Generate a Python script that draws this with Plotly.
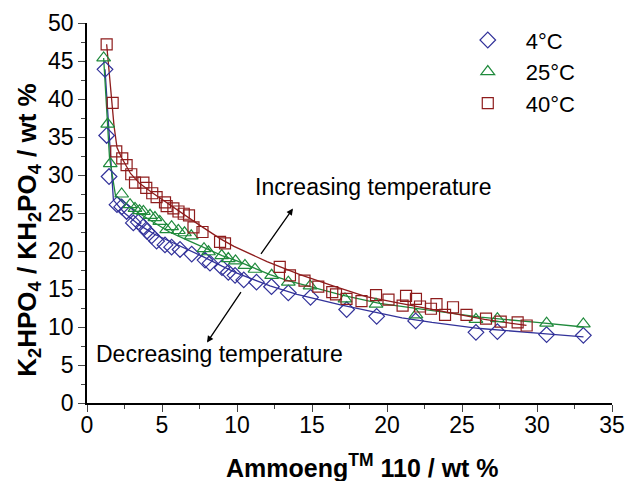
import plotly.graph_objects as go

# ---- data ----
x4 = [1.2, 1.31, 1.47, 2.0, 2.31, 2.64, 3.09, 3.42, 3.76, 4.0, 4.31, 4.64, 5.2, 5.64, 6.2, 6.98,
      7.87, 8.2, 9.0, 9.42, 9.87, 10.45, 11.3, 12.3, 13.42, 14.9, 17.31, 19.31, 21.91, 25.93,
      27.36, 30.64, 33.09]
y4 = [43.9, 35.2, 29.8, 26.1, 25.8, 25.2, 23.7, 23.8, 23.2, 22.6, 22.0, 21.3, 20.8, 20.5, 20.2, 19.6,
      18.8, 18.4, 17.8, 17.2, 16.8, 16.2, 15.9, 15.3, 14.5, 13.9, 12.3, 11.4, 10.8, 9.3,
      9.4, 9.0, 8.9]

x25 = [1.11, 1.38, 1.55, 2.31, 2.87, 3.2, 3.5, 3.76, 4.2, 4.53, 4.85, 5.31, 5.64, 6.09, 6.5, 6.95,
       7.8, 8.1, 8.98, 9.42, 9.9, 10.53, 11.2, 12.31, 13.42, 14.87, 17.2, 19.27, 21.93, 25.93,
       27.36, 30.64, 33.09]
y25 = [45.4, 36.7, 31.5, 27.5, 26.1, 25.6, 25.3, 25.2, 24.7, 24.4, 23.9, 22.8, 23.2, 22.7, 22.4, 22.0,
       20.3, 19.9, 19.4, 19.0, 18.7, 18.1, 17.6, 16.8, 15.9, 15.4, 13.7, 13.0, 11.6, 11.0,
       11.1, 10.5, 10.4]

x40 = [1.31, 1.71, 1.95, 2.35, 2.64, 2.95, 3.2, 3.76, 3.95, 4.35, 4.64, 5.2, 5.31, 5.76, 6.1, 6.45,
       6.8, 7.1, 7.7, 8.87, 9.2, 12.85, 13.53, 14.5, 15.42, 16.35, 16.6, 17.3, 18.3, 19.27,
       20.1, 21.04, 21.27, 21.93, 22.2, 22.93, 23.3, 23.87, 24.4, 25.3, 26.6, 27.58, 28.71, 29.31]
y40 = [47.2, 39.5, 33.1, 32.2, 31.3, 30.1, 29.0, 29.0, 28.3, 27.6, 27.1, 26.4, 25.9, 25.6, 25.2, 24.9,
       24.7, 23.1, 22.5, 21.2, 21.0, 17.9, 16.8, 16.1, 15.3, 14.6, 14.3, 13.7, 13.4, 14.2,
       13.6, 12.8, 14.1, 13.7, 12.7, 12.4, 13.0, 11.6, 12.6, 11.6, 11.1, 10.7, 10.6, 10.2]

# fitted curves
fx4 = [1.2, 1.76, 2.5, 3.5, 4.5, 5.5, 6.5, 7.8, 9.0, 10.0, 12.2, 14.0, 16.9, 19.5, 21.0, 23.0,
       26.2, 30.0, 33.1]
fy4 = [43.9, 26.7, 25.0, 23.4, 22.2, 21.3, 20.4, 19.2, 18.0, 17.1, 15.4, 14.3, 12.9, 11.8, 11.2, 10.6,
       9.8, 9.2, 8.7]

fx25 = [1.11, 1.5, 1.9, 2.5, 3.3, 4.0, 5.0, 5.5, 6.5, 7.7, 9.0, 10.0, 11.0, 12.2, 13.4, 14.9, 17.0,
        19.5, 21.0, 23.0, 26.2, 30.0, 33.1]
fy25 = [45.4, 32.3, 27.3, 26.4, 25.2, 24.3, 23.1, 22.5, 21.6, 20.5, 19.4, 18.7, 17.9, 16.9, 16.1, 15.3,
        14.2, 13.1, 12.7, 12.1, 11.3, 10.6, 10.0]

fx40 = [1.31, 1.5, 1.65, 1.8, 2.0, 2.3, 2.9, 3.5, 4.4, 5.5, 6.6, 7.5, 8.9, 9.8, 12.0, 14.2, 16.4,
        18.6, 20.9, 24.0, 26.5, 29.3]
fy40 = [47.2, 42.6, 39.6, 36.5, 33.6, 32.3, 30.2, 28.9, 27.6, 26.1, 24.7, 23.4, 21.6, 20.6, 18.6, 16.9,
        15.4, 14.0, 13.1, 11.9, 11.0, 10.2]

series = [
    ("4°C", x4, y4, fx4, fy4, "#32329A", "diamond-open", 12),
    ("25°C", x25, y25, fx25, fy25, "#1F8A3C", "triangle-up-open", 12),
    ("40°C", x40, y40, fx40, fy40, "#8E1C1C", "square-open", 11),
]

FONT = "Liberation Sans, Arial, sans-serif"

fig = go.Figure()
for name, xs, ys, fxs, fys, col, sym, sz in series:
    fig.add_trace(go.Scatter(x=fxs, y=fys, mode="lines", line=dict(color=col, width=1.3),
                             showlegend=False, hoverinfo="skip"))
for name, xs, ys, fxs, fys, col, sym, sz in series:
    fig.add_trace(go.Scatter(x=xs, y=ys, mode="markers", name=name,
                             marker=dict(symbol=sym, size=sz, color=col,
                                         line=dict(color=col, width=1.2))))

# arrows and labels
fig.add_annotation(x=13.73, y=25.6, ax=11.53, ay=19.43, xref="x", yref="y", axref="x", ayref="y",
                   showarrow=True, arrowhead=2, arrowsize=1, arrowwidth=1.3, arrowcolor="black", text="")
fig.add_annotation(x=8.0, y=7.95, ax=10.33, ay=14.8, xref="x", yref="y", axref="x", ayref="y",
                   showarrow=True, arrowhead=2, arrowsize=1, arrowwidth=1.3, arrowcolor="black", text="")
fig.add_annotation(x=19.13, y=28.4, xref="x", yref="y", text="Increasing temperature", showarrow=False,
                   font=dict(family=FONT, size=23, color="black"))
fig.add_annotation(x=8.8, y=6.5, xref="x", yref="y", text="Decreasing temperature", showarrow=False,
                   font=dict(family=FONT, size=23, color="black"))

# axis titles
fig.add_annotation(x=0.524, y=-0.167, xref="paper", yref="paper", showarrow=False,
                   xanchor="center", yanchor="middle",
                   text="<b>Ammoeng<sup>TM</sup> 110 / wt %</b>",
                   font=dict(family=FONT, size=25, color="black"))
fig.add_annotation(x=-0.112, y=0.454, xref="paper", yref="paper", showarrow=False, textangle=-90,
                   xanchor="center", yanchor="middle",
                   text="<b>K<sub>2</sub>HPO<sub>4</sub> / KH<sub>2</sub>PO<sub>4</sub> / wt %</b>",
                   font=dict(family=FONT, size=26, color="black"))

fig.update_layout(
    width=632, height=481, autosize=False,
    margin=dict(l=87, r=20, t=23, b=78, pad=0),
    paper_bgcolor="white", plot_bgcolor="white",
    font=dict(family=FONT, color="black", size=22),
    legend=dict(x=0.691, y=1.01, xanchor="left", yanchor="top", bgcolor="rgba(0,0,0,0)",
                font=dict(family=FONT, size=22), itemwidth=66, tracegroupgap=0),
    xaxis=dict(range=[0, 35], tickvals=[0, 5, 10, 15, 20, 25, 30, 35], ticks="outside", ticklen=7,
               tickwidth=1.3, showline=True, linewidth=1.5, linecolor="black", showgrid=False,
               zeroline=False, tickfont=dict(size=23), automargin=False, ticklabelstandoff=-6,
               minor=dict(dtick=2.5, ticks="outside", ticklen=4, tickwidth=1.3, showgrid=False)),
    yaxis=dict(range=[0, 50], tickvals=[0, 5, 10, 15, 20, 25, 30, 35, 40, 45, 50], ticks="outside",
               ticklen=7, tickwidth=1.3, showline=True, linewidth=1.5, linecolor="black",
               showgrid=False, zeroline=False, tickfont=dict(size=23), automargin=False,
               minor=dict(dtick=2.5, ticks="outside", ticklen=4, tickwidth=1.3, showgrid=False)),
)

fig.write_html("out.html")
